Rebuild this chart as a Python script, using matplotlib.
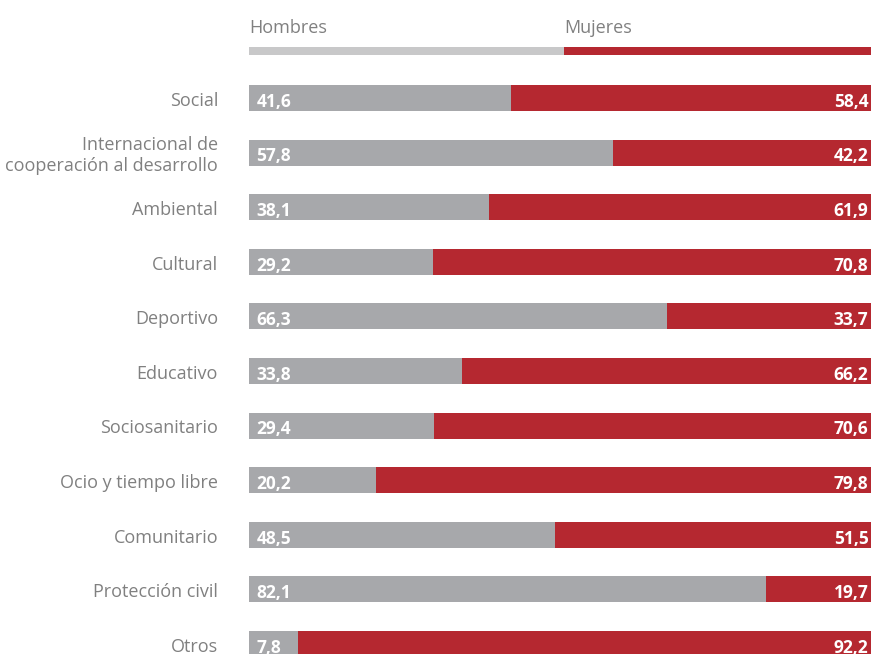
import matplotlib
matplotlib.use("Agg")
import matplotlib.pyplot as plt

categorias = ["Social", "Internacional de\ncooperación al desarrollo", "Ambiental",
              "Cultural", "Deportivo", "Educativo", "Sociosanitario",
              "Ocio y tiempo libre", "Comunitario", "Protección civil", "Otros"]
hombres = [41.6, 57.8, 38.1, 29.2, 66.3, 33.8, 29.4, 20.2, 48.5, 82.1, 7.8]
mujeres = [58.4, 42.2, 61.9, 70.8, 33.7, 66.2, 70.6, 79.8, 51.5, 19.7, 92.2]

GRIS = "#a7a8ab"
GRIS_CLARO = "#c8c8c9"
ROJO = "#b52830"
TEXTO = "#808080"

plt.rcParams['font.family'] = ['Open Sans', 'DejaVu Sans']


def fmt(v):
    return f"{v:.1f}".replace(".", ",")


def main():
    fig = plt.figure(figsize=(8.71, 6.54), dpi=100)
    ax = fig.add_axes([249 / 871, 0, 622 / 871, 1])
    ax.set_xlim(0, 98.7)
    ax.set_ylim(10.183, -1.795)
    ax.axis("off")

    ys = list(range(len(categorias)))
    ax.barh(ys, hombres, height=0.476, color=GRIS)
    ax.barh(ys, mujeres, left=hombres, height=0.476, color=ROJO)

    for y, cat, h in zip(ys, categorias, hombres):
        ax.text(-4.9, y + 0.05, cat, ha="right", va="center", fontsize=13,
                color=TEXTO, linespacing=1.2, clip_on=False)
        ax.text(1.2, y + 0.07, fmt(h), ha="left", va="center", fontsize=12.5,
                fontweight="bold", color="white")
    for y, m in zip(ys, mujeres):
        ax.text(98.3, y + 0.07, fmt(m), ha="right", va="center", fontsize=12.5,
                fontweight="bold", color="white")

    # leyenda superior
    ax.barh(-0.861, 50, height=0.13, color=GRIS_CLARO)
    ax.barh(-0.861, 50, left=50, height=0.13, color=ROJO)
    ax.text(0, -1.28, "Hombres", ha="left", va="center", fontsize=13, color=TEXTO)
    ax.text(50, -1.28, "Mujeres", ha="left", va="center", fontsize=13, color=TEXTO)

    fig.savefig("out.png", dpi=100)


if __name__ == '__main__':
    main()
